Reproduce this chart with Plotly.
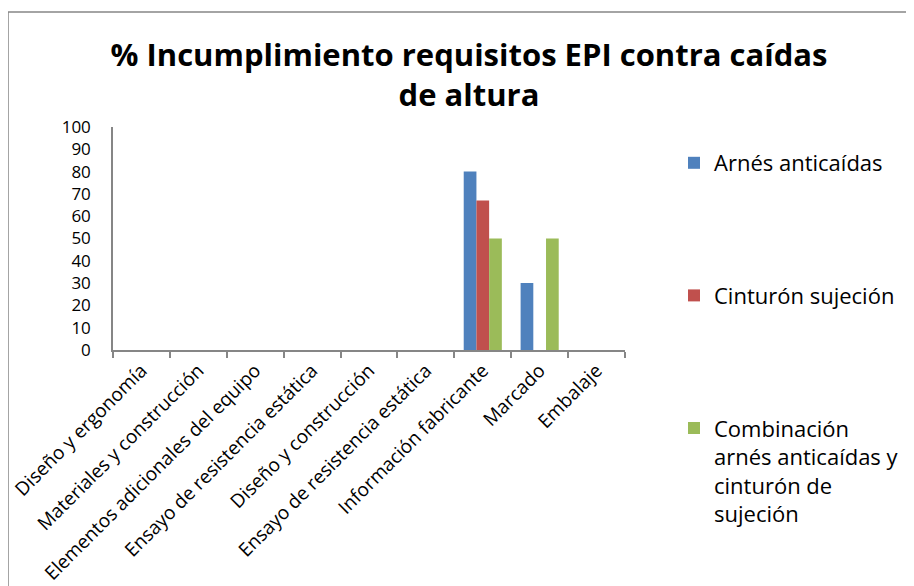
import plotly.graph_objects as go

categories = ["Diseño y ergonomía", "Materiales y construcción", "Elementos adicionales del equipo",
              "Ensayo de resistencia estática", "Diseño y construcción", "Ensayo de resistencia estática",
              "Información fabricante", "Marcado", "Embalaje"]
arnes = [0, 0, 0, 0, 0, 0, 80, 30, 0]
cinturon = [0, 0, 0, 0, 0, 0, 67, 0, 0]
combinacion = [0, 0, 0, 0, 0, 0, 50, 50, 0]
series_names = ["Arnés anticaídas", "Cinturón sujeción",
                "Combinación<br>arnés anticaídas y<br>cinturón de<br>sujeción"]
colors = ["#4F81BD", "#C0504D", "#9BBB59"]
yticks = list(range(0, 101, 10))

# page has an 8px body margin; work in figure coordinates
W, H = 906, 578
L, T = 105, 119
R, B = W - 617, H - 342
pw, ph = W - L - R, H - T - B

xs = list(range(len(categories)))
fig = go.Figure()
for name, vals, col in zip(series_names, [arnes, cinturon, combinacion], colors):
    fig.add_trace(go.Bar(x=xs, y=vals, name=name, marker=dict(color=col, line=dict(width=0)),
                         legendgroup=name))

font = "Open Sans, Lato, sans-serif"

def px2x(p):
    return (p - L) / pw

def px2y(p):
    return (H - B - p) / ph

fig.update_layout(
    width=W, height=H,
    margin=dict(l=L, r=R, t=T, b=B, autoexpand=False),
    paper_bgcolor="white", plot_bgcolor="white",
    font=dict(family=font, color="black"),
    barmode="group", bargap=0.33, bargroupgap=0,
    title=dict(text="<b>% Incumplimiento requisitos EPI contra caídas<br>de altura</b>",
               x=461 / W, xref="container", xanchor="center",
               y=1 - 58 / H, yref="container", yanchor="middle",
               font=dict(size=31, family=font, color="black")),
    legend=dict(x=666 / W, xref="container", y=1 - 134 / H, yref="container",
                xanchor="left", yanchor="top", maxheight=H, valign="top",
                font=dict(size=22, family=font), tracegroupgap=101,
                itemwidth=30, bgcolor="rgba(0,0,0,0)"),
    xaxis=dict(range=[-0.5, 8.5], tickmode="array", tickvals=xs, ticktext=categories,
               tickangle=-45, ticks="", showline=True, linecolor="#868686", linewidth=2,
               tickfont=dict(size=19, family=font), showgrid=False, zeroline=False,
               minor=dict(tickmode="array", tickvals=[i + 0.5 for i in range(-1, 9)],
                          ticks="outside", ticklen=6, tickcolor="#868686", tickwidth=2)),
    yaxis=dict(range=[0, 100], tickmode="array", tickvals=yticks, ticks="",
               showline=True, linecolor="#868686", linewidth=1.5, showgrid=False, zeroline=False,
               ticklabelstandoff=17,
               tickfont=dict(size=17, family=font)),
    shapes=[dict(type="rect", xref="paper", yref="paper",
                 x0=px2x(0), x1=px2x(W + 20), y0=px2y(H + 20), y1=px2y(4),
                 line=dict(color="#868686", width=1.5), fillcolor="rgba(0,0,0,0)")],
)

fig.write_html("out.html")
